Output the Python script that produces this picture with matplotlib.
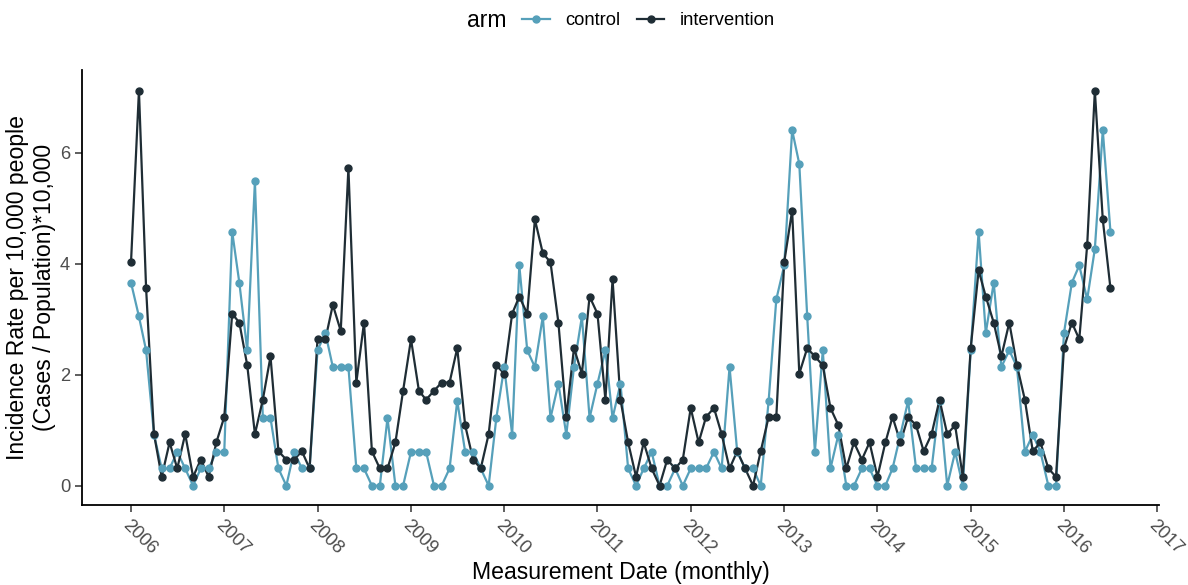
import matplotlib
matplotlib.use("Agg")
import matplotlib.pyplot as plt
import matplotlib.dates as mdates
from matplotlib.lines import Line2D
import pandas as pd

plt.rcParams['font.family'] = ['Liberation Sans', 'DejaVu Sans']

# monthly incidence per 10,000 people, Jan 2006 - Jul 2016
control = [
    3.66, 3.05, 2.44, 0.92, 0.31, 0.31, 0.61, 0.31, 0.00, 0.31, 0.31, 0.61,
    0.61, 4.58, 3.66, 2.44, 5.49, 1.22, 1.22, 0.31, 0.00, 0.61, 0.31, 0.31,
    2.44, 2.75, 2.14, 2.14, 2.14, 0.31, 0.31, 0.00, 0.00, 1.22, 0.00, 0.00,
    0.61, 0.61, 0.61, 0.00, 0.00, 0.31, 1.53, 0.61, 0.61, 0.31, 0.00, 1.22,
    2.14, 0.92, 3.97, 2.44, 2.14, 3.05, 1.22, 1.84, 0.92, 2.14, 3.05, 1.22,
    1.84, 2.44, 1.22, 1.84, 0.31, 0.00, 0.31, 0.61, 0.00, 0.00, 0.31, 0.00,
    0.31, 0.31, 0.31, 0.61, 0.31, 2.14, 0.61, 0.31, 0.31, 0.00, 1.53, 3.36,
    3.97, 6.41, 5.80, 3.05, 0.61, 2.44, 0.31, 0.92, 0.00, 0.00, 0.31, 0.31,
    0.00, 0.00, 0.31, 0.92, 1.53, 0.31, 0.31, 0.31, 1.53, 0.00, 0.61, 0.00,
    2.44, 4.58, 2.75, 3.66, 2.14, 2.44, 2.14, 0.61, 0.92, 0.61, 0.00, 0.00,
    2.75, 3.66, 3.97, 3.36, 4.27, 6.41, 4.58,
]
intervention = [
    4.03, 7.12, 3.56, 0.93, 0.16, 0.78, 0.31, 0.93, 0.16, 0.47, 0.16, 0.78,
    1.24, 3.10, 2.94, 2.17, 0.93, 1.55, 2.33, 0.62, 0.47, 0.47, 0.62, 0.31,
    2.64, 2.64, 3.26, 2.79, 5.73, 1.86, 2.94, 0.62, 0.31, 0.31, 0.78, 1.71,
    2.64, 1.71, 1.55, 1.71, 1.86, 1.86, 2.48, 1.09, 0.47, 0.31, 0.93, 2.17,
    2.02, 3.10, 3.41, 3.10, 4.80, 4.19, 4.03, 2.94, 1.24, 2.48, 2.02, 3.41,
    3.10, 1.55, 3.72, 1.55, 0.78, 0.16, 0.78, 0.31, 0.00, 0.47, 0.31, 0.47,
    1.40, 0.78, 1.24, 1.40, 0.93, 0.31, 0.62, 0.31, 0.00, 0.62, 1.24, 1.24,
    4.03, 4.96, 2.02, 2.48, 2.33, 2.17, 1.40, 1.09, 0.31, 0.78, 0.47, 0.78,
    0.16, 0.78, 1.24, 0.78, 1.24, 1.09, 0.62, 0.93, 1.55, 0.93, 1.09, 0.16,
    2.48, 3.88, 3.41, 2.94, 2.33, 2.94, 2.17, 1.55, 0.62, 0.78, 0.31, 0.16,
    2.48, 2.94, 2.64, 4.34, 7.12, 4.80, 3.56,
]
dates = pd.date_range("2006-01-01", periods=len(control), freq="MS")
year_ticks = list(range(2006, 2018))
y_ticks = [0, 2, 4, 6]

col_control = "#56A0BA"
col_interv = "#1F2D35"

fig = plt.figure(figsize=(11.88, 5.85), dpi=100)
ax = fig.add_axes([0.069, 0.136, 0.907, 0.744])

# lines first, then points on top (as ggplot layers do)
ax.plot(dates, control, color=col_control, lw=1.6, zorder=2)
ax.plot(dates, intervention, color=col_interv, lw=1.6, zorder=2)
ax.plot(dates, control, 'o', color=col_control, ms=5, zorder=3)
ax.plot(dates, intervention, 'o', color=col_interv, ms=5, zorder=3)

ax.set_xlim(dates[0] - pd.Timedelta(days=192), dates[-1] + pd.Timedelta(days=192))
ax.set_ylim(-0.356, 7.49)
ax.set_xticks([pd.Timestamp(f"{y}-01-01") for y in year_ticks])
ax.xaxis.set_major_formatter(mdates.DateFormatter("%Y"))
ax.set_yticks(y_ticks)

for s in ["top", "right"]:
    ax.spines[s].set_visible(False)
for s in ["left", "bottom"]:
    ax.spines[s].set_linewidth(1.3)
    ax.spines[s].set_color("black")
ax.tick_params(axis="both", length=5, width=1.1, color="#333333",
               labelcolor="#4D4D4D", labelsize=13.2)
plt.setp(ax.get_xticklabels(), rotation=-45, ha="left", va="top",
         rotation_mode="anchor")

ax.set_xlabel("Measurement Date (monthly)", fontsize=16.6, labelpad=2)
ax.set_ylabel("Incidence Rate per 10,000 people\n(Cases / Population)*10,000",
              fontsize=16.6, labelpad=3)

# legend across the top
fig.text(0.393, 0.965, "arm", fontsize=16.6, va="center", ha="left")
handles = [
    Line2D([], [], color=col_control, lw=1.6, marker="o", ms=5),
    Line2D([], [], color=col_interv, lw=1.6, marker="o", ms=5),
]
fig.legend(handles, ["control", "intervention"], loc="center",
           bbox_to_anchor=(0.546, 0.965), ncol=2, frameon=False,
           fontsize=13.2, handlelength=1.5, handletextpad=0.85,
           columnspacing=0.9)

fig.savefig("out.png", dpi=100)
